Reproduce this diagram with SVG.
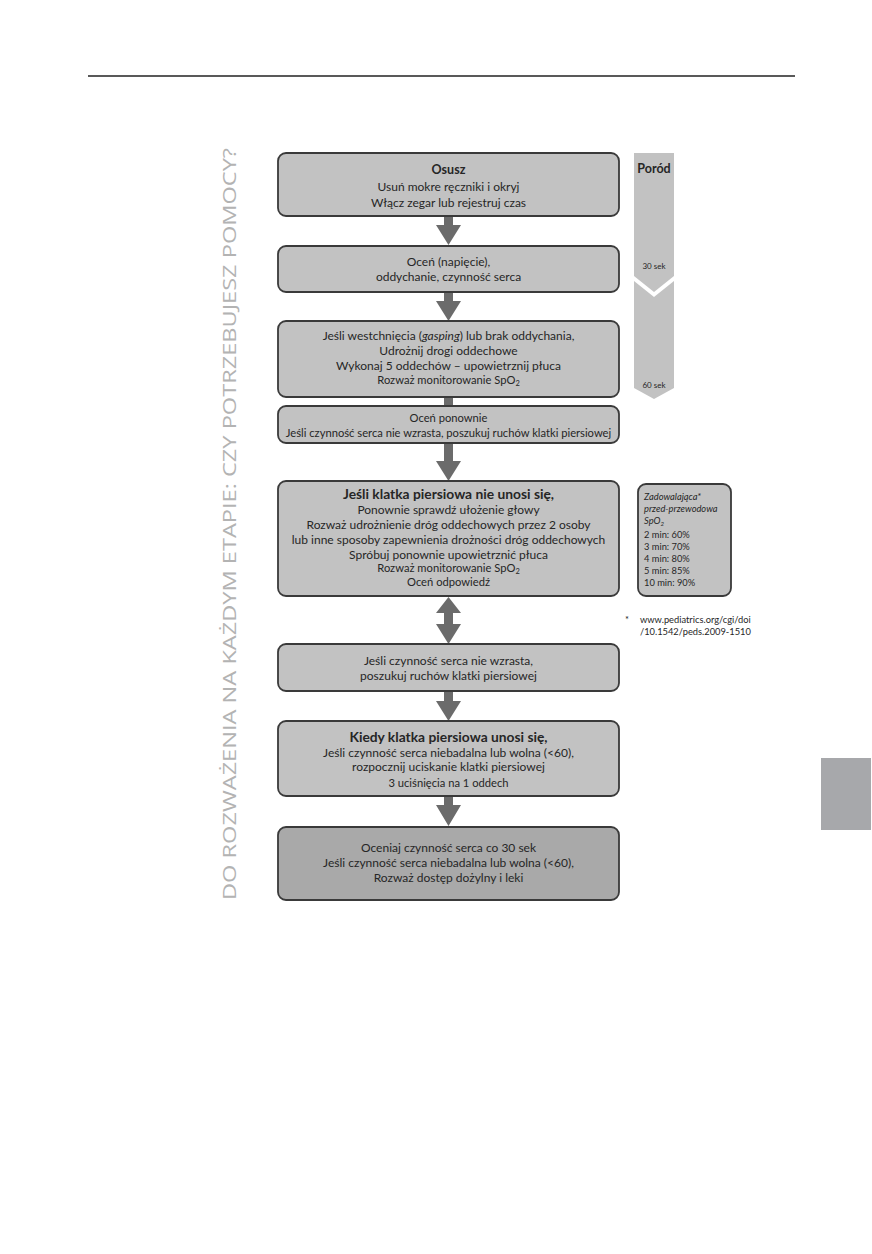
<svg xmlns="http://www.w3.org/2000/svg" width="872" height="1254" viewBox="0 0 872 1254">
<style>
.box{fill:#c2c2c2;stroke:#3a3a3a;stroke-width:1.8}
.box8{fill:#a9a9a9;stroke:#3a3a3a;stroke-width:1.8}
.t{font-family:Lato,"Open Sans","Liberation Sans",sans-serif;font-size:12px;fill:#262626;text-anchor:middle}
.s{font-size:11.2px}
.b{font-weight:bold;font-size:13.8px}
.tiny{font-size:8px}
.arr{fill:#6b6b6b}
.tl{fill:#c2c2c2}
.side{font-family:"Open Sans","Liberation Sans",sans-serif;font-size:19px;fill:#b3b3b3}
.sp{font-family:Lato,"Open Sans","Liberation Sans",sans-serif;font-size:9.3px;fill:#262626}
</style>
<rect width="872" height="1254" fill="#ffffff"/>
<line x1="88" y1="76" x2="795" y2="76" stroke="#222" stroke-width="1.5"/>
<rect x="821" y="758" width="50" height="72" fill="#a7a8ab"/>
<text class="side" transform="translate(236,900) rotate(-90)" textLength="752" lengthAdjust="spacingAndGlyphs">DO ROZWAŻENIA NA KAŻDYM ETAPIE: CZY POTRZEBUJESZ POMOCY?</text>

<g id="connectors">
<polygon class="arr" points="444,216 453,216 453,225 461,225 448.5,245 436,225 444,225"/>
<polygon class="arr" points="444,292 453,292 453,301 461,301 448.5,321 436,301 444,301"/>
<rect class="arr" x="444" y="397" width="9" height="9"/>
<polygon class="arr" points="444,443 453,443 453,461 461,461 448.5,481 436,461 444,461"/>
<polygon class="arr" points="448.5,597 461,613 453,613 453,624 461,624 448.5,644 436,624 444,624 444,613 436,613"/>
<polygon class="arr" points="444,691 453,691 453,701 461,701 448.5,721 436,701 444,701"/>
<polygon class="arr" points="444,796 453,796 453,805 461,805 448.5,826 436,805 444,805"/>
</g>

<g id="n1">
<rect class="box" x="278" y="153" width="341" height="63" rx="8"/>
<text class="t b" x="448.5" y="174" style="font-size:12.5px">Osusz</text>
<text class="t" x="448.5" y="191">Usuń mokre ręczniki i okryj</text>
<text class="t" x="448.5" y="207">Włącz zegar lub rejestruj czas</text>
</g>
<g id="n2">
<rect class="box" x="278" y="246" width="341" height="46" rx="8"/>
<text class="t" x="448.5" y="266">Oceń (napięcie),</text>
<text class="t" x="448.5" y="281">oddychanie, czynność serca</text>
</g>
<g id="n3">
<rect class="box" x="278" y="321" width="341" height="76" rx="8"/>
<text class="t" x="448.5" y="340">Jeśli westchnięcia (<tspan font-style="italic">gasping</tspan>) lub brak oddychania,</text>
<text class="t" x="448.5" y="355">Udrożnij drogi oddechowe</text>
<text class="t" x="448.5" y="370">Wykonaj 5 oddechów – upowietrznij płuca</text>
<text class="t s" x="448.5" y="384">Rozważ monitorowanie SpO<tspan font-size="7.5" dy="2">2</tspan></text>
</g>
<g id="n4">
<rect class="box" x="278" y="406" width="341" height="37" rx="8"/>
<text class="t s" x="448.5" y="422">Oceń ponownie</text>
<text class="t s" x="448.5" y="437">Jeśli czynność serca nie wzrasta, poszukuj ruchów klatki piersiowej</text>
</g>
<g id="n5">
<rect class="box" x="278" y="481" width="341" height="115" rx="8"/>
<text class="t b" x="448.5" y="499">Jeśli klatka piersiowa nie unosi się,</text>
<text class="t" x="448.5" y="514">Ponownie sprawdź ułożenie głowy</text>
<text class="t" x="448.5" y="529">Rozważ udrożnienie dróg oddechowych przez 2 osoby</text>
<text class="t" x="448.5" y="544">lub inne sposoby zapewnienia drożności dróg oddechowych</text>
<text class="t" x="448.5" y="559">Spróbuj ponownie upowietrznić płuca</text>
<text class="t s" x="448.5" y="572">Rozważ monitorowanie SpO<tspan font-size="7.5" dy="2">2</tspan></text>
<text class="t s" x="448.5" y="586">Oceń odpowiedź</text>
</g>
<g id="n6">
<rect class="box" x="278" y="644" width="341" height="47" rx="8"/>
<text class="t" x="448.5" y="665">Jeśli czynność serca nie wzrasta,</text>
<text class="t" x="448.5" y="680">poszukuj ruchów klatki piersiowej</text>
</g>
<g id="n7">
<rect class="box" x="278" y="721" width="341" height="75" rx="8"/>
<text class="t b" x="448.5" y="742">Kiedy klatka piersiowa unosi się,</text>
<text class="t" x="448.5" y="757">Jeśli czynność serca niebadalna lub wolna (&lt;60),</text>
<text class="t" x="448.5" y="771">rozpocznij uciskanie klatki piersiowej</text>
<text class="t s" x="448.5" y="787">3 uciśnięcia na 1 oddech</text>
</g>
<g id="n8">
<rect class="box8" x="278" y="827" width="341" height="73" rx="8"/>
<text class="t" x="448.5" y="852">Oceniaj czynność serca co 30 sek</text>
<text class="t" x="448.5" y="867">Jeśli czynność serca niebadalna lub wolna (&lt;60),</text>
<text class="t" x="448.5" y="882">Rozważ dostęp dożylny i leki</text>
</g>

<g id="timeline">
<polygon class="tl" points="634,153 674,153 674,276 654,292 634,276"/>
<polygon class="tl" points="634,281 654,297 674,281 674,388 654,399 634,388"/>
<text class="t b" x="654" y="173" style="font-size:12.5px">Poród</text>
<text class="t tiny" x="654" y="269">30 sek</text>
<text class="t tiny" x="654" y="388">60 sek</text>
</g>

<g id="spo2">
<rect class="box" x="638" y="484" width="93" height="112" rx="8"/>
<text class="sp" x="644" y="500" font-style="italic">Zadowalająca*</text>
<text class="sp" x="644" y="512" font-style="italic">przed-przewodowa</text>
<text class="sp" x="644" y="524" font-style="italic">SpO<tspan font-size="6" dy="2">2</tspan></text>
<text class="sp" x="644" y="538">2 min: 60%</text>
<text class="sp" x="644" y="550">3 min: 70%</text>
<text class="sp" x="644" y="562">4 min: 80%</text>
<text class="sp" x="644" y="574">5 min: 85%</text>
<text class="sp" x="644" y="586">10 min: 90%</text>
</g>
<g id="footnote">
<text class="sp" x="625" y="623">*</text>
<text class="sp" x="640" y="623">www.pediatrics.org/cgi/doi</text>
<text class="sp" x="640" y="635">/10.1542/peds.2009-1510</text>
</g>
</svg>
